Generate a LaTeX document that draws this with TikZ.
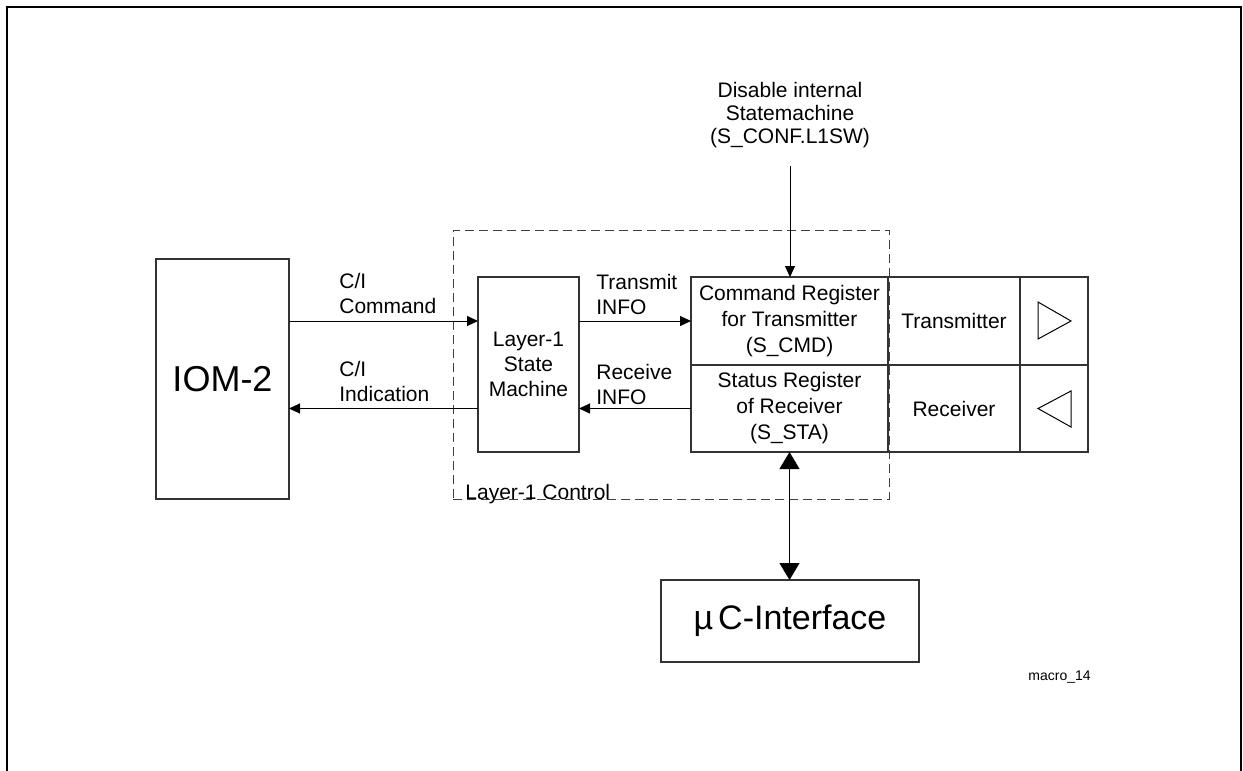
\documentclass[tikz,border=0pt]{standalone}
\usepackage{fontspec}
\setmainfont{Liberation Sans}
\usetikzlibrary{positioning,arrows.meta,calc}
\tikzset{
  blk/.style={draw=black!80, line width=0.6pt, inner sep=0pt, outer sep=0pt,
              align=center, font=\fontsize{10.5}{12.5}\selectfont},
  lbl/.style={inner sep=0pt, align=left, font=\fontsize{10.5}{12.5}\selectfont},
  arr/.style={-{Triangle[length=5.5pt,width=5pt]}, line width=0.5pt},
  arrbig/.style={{Triangle[length=8.5pt,width=10pt]}-{Triangle[length=8.5pt,width=10pt]}, line width=0.5pt},
  ctrlbox/.style={draw=black!75, dash pattern=on 4.5pt off 2.5pt, line width=0.5pt,
                  inner sep=0pt, outer sep=0pt},
}

\begin{document}
\begin{tikzpicture}[x=0.5pt, y=-0.5pt]
\useasboundingbox (0,0) rectangle (1243,771);
% page frame
\draw[line width=1pt] (7,771) -- (7,7) -- (1241,7) -- (1241,771);

% layer-1 control area
\node[ctrlbox, minimum width=218pt, minimum height=134.5pt] (ctrl) at (671,364.5) {};
\node[lbl, anchor=base west] (ctrllbl) at ([xshift=6pt]ctrl.south west) {Layer-1 Control};

% blocks
\node[blk, minimum width=66.5pt, minimum height=120pt, font=\fontsize{18}{20}\selectfont] (iom) at (222.5,379) {IOM-2};
\node[blk, minimum width=50.5pt, minimum height=87.5pt] (lsm) at (528.5,364.5) {Layer-1\\State\\Machine};
\node[blk, minimum width=98.5pt, minimum height=44pt, font=\fontsize{10.5}{13}\selectfont] (cmdreg) at (789.5,321) {Command Register\\for Transmitter\\(S\_CMD)};
\node[blk, minimum width=98.5pt, minimum height=43.5pt, font=\fontsize{10.5}{13}\selectfont, below=0pt of cmdreg] (stareg) {Status Register\\of Receiver\\(S\_STA)};
\node[blk, minimum width=66pt, minimum height=44pt, right=0pt of cmdreg] (tx) {Transmitter};
\node[blk, minimum width=66pt, minimum height=43.5pt, right=0pt of stareg] (rx) {Receiver};
\node[blk, minimum width=34pt, minimum height=44pt, right=0pt of tx] (txsym) {};
\node[blk, minimum width=34pt, minimum height=43.5pt, right=0pt of rx] (rxsym) {};
\node[blk, minimum width=129pt, minimum height=41pt, font=\fontsize{17}{19}\selectfont] (uc) at (790,621) {µ\hspace{2.5pt}C-Interface};

% driver symbols
\draw[line width=0.5pt] ($(txsym)+(-16,-19)$) -- ($(txsym)+(-16,18)$) -- ($(txsym)+(17,0)$) -- cycle;
\draw[line width=0.5pt] ($(rxsym)+(17,-17.5)$) -- ($(rxsym)+(17,18.5)$) -- ($(rxsym)+(-16,0)$) -- cycle;

% labels
\node[lbl, anchor=west] (cicmd) at (339,293.5) {C/I\\Command};
\node[lbl, anchor=west] (ciind) at (339,381.5) {C/I\\Indication};
\node[lbl, anchor=west] (txinfo) at (596,294.5) {Transmit\\INFO};
\node[lbl, anchor=west] (rxinfo) at (596,384.5) {Receive\\INFO};
\node[lbl, align=center, font=\fontsize{10.5}{11.5}\selectfont] (distxt) at (790,115) {Disable internal\\Statemachine\\(S\_CONF.L1SW)};
\coordinate (disend) at (790,166);
\node[inner sep=0pt, anchor=west, font=\fontsize{7}{8}\selectfont] (tag) at (1028,677) {macro\_14};

% connectors
\draw[arr] (iom.east |- cmdreg) -- (lsm.west |- cmdreg);
\draw[arr] (lsm.west |- stareg) -- (iom.east |- stareg);
\draw[arr] (lsm.east |- cmdreg) -- (cmdreg.west);
\draw[arr] (stareg.west) -- (lsm.east |- stareg);
\draw[arr] (disend) -- (disend |- cmdreg.north);
\draw[arrbig] (stareg.south) -- (stareg.south |- uc.north);
\end{tikzpicture}
\end{document}
